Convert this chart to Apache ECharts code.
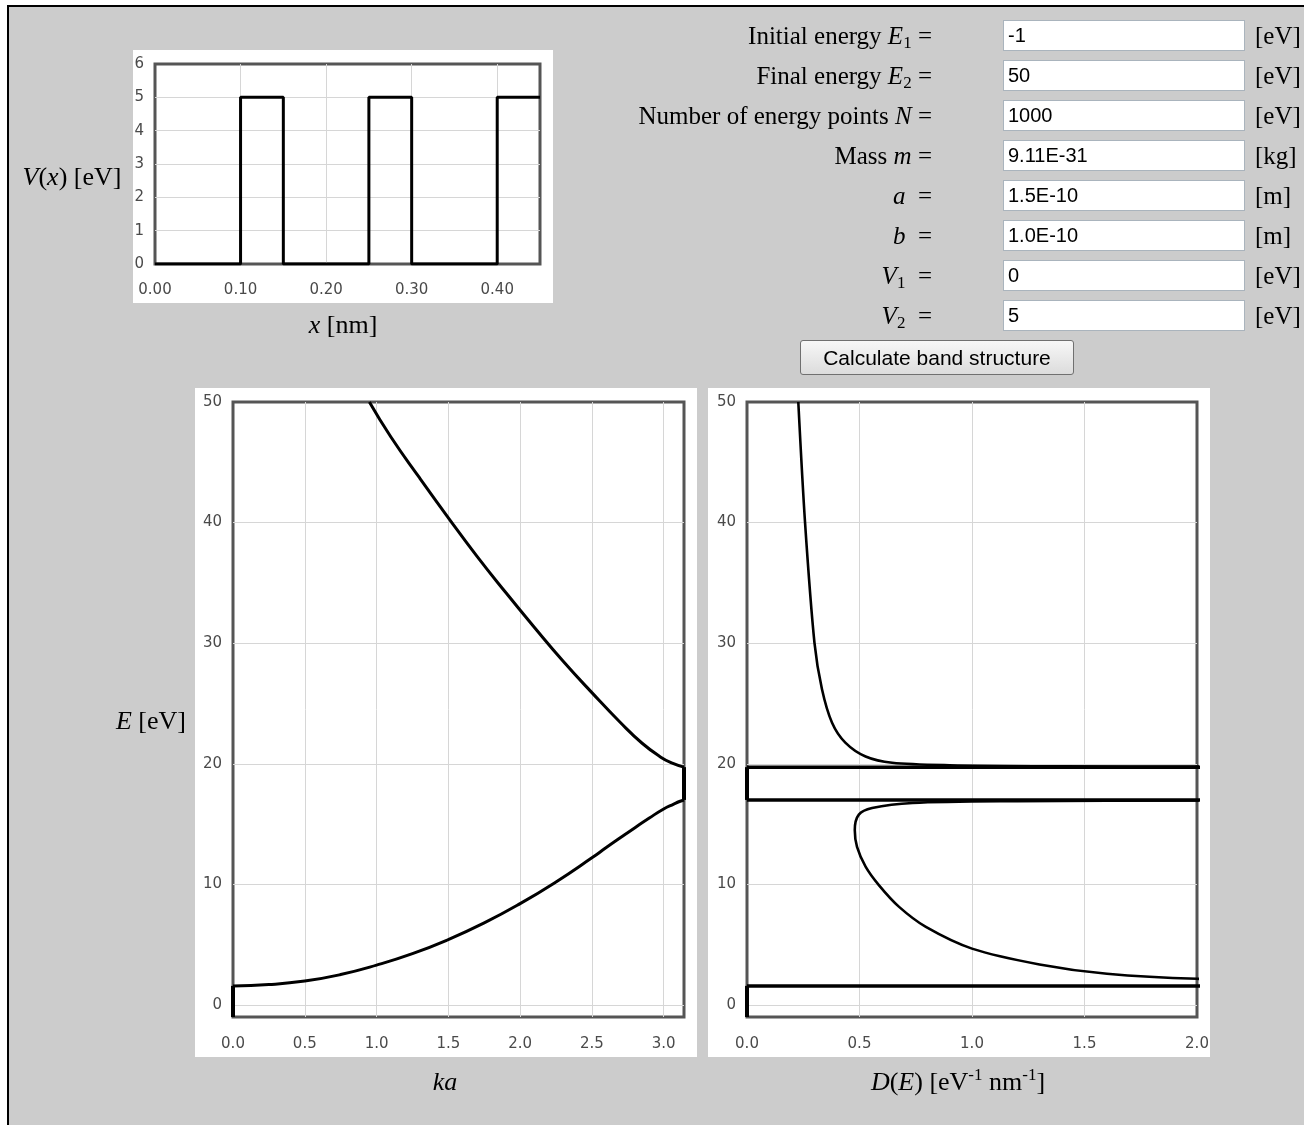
<!DOCTYPE html>
<html>
<head>
<meta charset="utf-8">
<script src="https://cdn.jsdelivr.net/npm/echarts@6/dist/echarts.min.js"></script>
<style>
html,body{margin:0;padding:0;background:#fff;width:1304px;height:1125px;overflow:hidden}
#frame{position:absolute;left:7px;top:5px;width:1400px;height:1300px;border-left:2px solid #000;border-top:2px solid #000;background:#cccccc}
#chart{position:absolute;left:0;top:0;width:1304px;height:1125px}
.lab{position:absolute;left:420px;width:512px;text-align:right;font-family:'Liberation Serif',serif;font-size:25px;height:31px;line-height:31px;color:#000;white-space:nowrap}
.lab sub{font-size:17px;line-height:0;vertical-align:-4px}
.inp{position:absolute;left:1003px;width:242px;height:31px;box-sizing:border-box;border:1px solid #aab4bd;background:#fff;font-family:'Liberation Sans',Arial,sans-serif;font-size:20px;line-height:29px;padding-left:4px;color:#000;white-space:nowrap}
.unit{position:absolute;left:1255px;font-family:'Liberation Serif',serif;font-size:25px;height:31px;line-height:31px;color:#000}
#btn{position:absolute;left:800px;top:340px;width:274px;height:35px;box-sizing:border-box;border:1px solid #707070;border-radius:3px;background:linear-gradient(#f7f7f7,#dcdcdc);font-family:'Liberation Sans',Arial,sans-serif;font-size:21px;line-height:33px;text-align:center;color:#000;white-space:nowrap}
</style>
</head>
<body>
<div id="frame"></div>
<div id="chart"></div>
<div id="form"></div>
<script>
// ---------- form content ----------
const formLabels = [
  'Initial energy <i>E</i><sub>1</sub> =',
  'Final energy <i>E</i><sub>2</sub> =',
  'Number of energy points <i>N</i> =',
  'Mass <i>m</i> =',
  '<i>a</i> &nbsp;=',
  '<i>b</i> &nbsp;=',
  '<i>V</i><sub>1</sub> &nbsp;=',
  '<i>V</i><sub>2</sub> &nbsp;='
];
const formValues = ['-1', '50', '1000', '9.11E-31', '1.5E-10', '1.0E-10', '0', '5'];
const formUnits = ['[eV]', '[eV]', '[eV]', '[kg]', '[m]', '[m]', '[eV]', '[eV]'];
const buttonText = 'Calculate band structure';

// ---------- chart data ----------
// potential V(x)
const potX = [0, 0.10, 0.10, 0.15, 0.15, 0.25, 0.25, 0.30, 0.30, 0.40, 0.40, 0.45];
const potV = [0, 0, 5, 5, 0, 0, 5, 5, 0, 0, 5, 5];

// energy range and band edges [eV]
const eMin = -1;
const eMax = 50;
const bandEdges = [1.58, 17.0, 19.72];
const kaEdges = [0, Math.PI];

// band structure E(ka)
const kaLower = [0, 0.25, 0.5, 0.75, 1.0, 1.25, 1.5, 1.75, 2.0, 2.25, 2.5, 2.6, 2.7, 2.8, 2.9, 3.0, 3.07, 3.11, 3.1416];
const eLower = [1.58, 1.69, 1.98, 2.52, 3.3, 4.25, 5.42, 6.8, 8.4, 10.2, 12.2, 13.05, 13.88, 14.7, 15.5, 16.25, 16.65, 16.87, 17.0];
const kaUpper = [0.95, 1.1, 1.3, 1.5, 1.7, 1.9, 2.1, 2.3, 2.5, 2.7, 2.85, 2.98, 3.06, 3.1416];
const eUpper = [50, 47.1, 43.7, 40.4, 37.2, 34.2, 31.3, 28.5, 25.9, 23.4, 21.7, 20.55, 20.05, 19.72];

// density of states D(E)
const dosLowerD = [3.0, 2.0, 1.6, 1.3, 1.0, 0.795, 0.676, 0.586, 0.527, 0.489, 0.479, 0.497, 0.556, 0.736, 1.2, 2.0, 3.0];
const dosLowerE = [1.9, 2.17, 2.58, 3.36, 4.67, 6.47, 8.13, 9.94, 11.47, 13.1, 14.5, 15.78, 16.33, 16.75, 16.9, 16.96, 16.99];
const dosUpperD = [3.0, 2.0, 1.4, 0.9, 0.645, 0.527, 0.437, 0.378, 0.333, 0.30, 0.258, 0.228];
const dosUpperE = [19.74, 19.76, 19.79, 19.88, 20.08, 20.6, 21.75, 23.4, 26.2, 30, 40, 50];
const dosEdgeD = [0, 3.0];   // divergence at band edges (off scale)
const dosGapD = 0;

// axis titles
const titles = {
  pot_y: '{i|V}{n|(}{i|x}{n|) [eV]}',
  pot_x: '{i|x}{n| [nm]}',
  band_y: '{i|E}{n| [eV]}',
  band_x: '{i|ka}',
  dos_x: '{i|D}{n|(}{i|E}{n|) [eV}{s|-1}{n| nm}{s|-1}{n|]}'
};

// ---------- build form ----------
const form = document.getElementById('form');
let html = '';
for (let i = 0; i < formLabels.length; i++) {
  const top = 20 + 40 * i;
  html += '<div class="lab" style="top:' + top + 'px">' + formLabels[i] + '</div>';
  html += '<div class="inp" style="top:' + top + 'px">' + formValues[i] + '</div>';
  html += '<div class="unit" style="top:' + top + 'px">' + formUnits[i] + '</div>';
}
html += '<div id="btn">' + buttonText + '</div>';
form.innerHTML = html;

// ---------- chart ----------
const zip = (a, b) => a.map((v, i) => [v, b[i]]);
const chart = echarts.init(document.getElementById('chart'), null, {renderer: 'canvas'});

const labelFont = {color: '#4a4a4a', fontFamily: 'DejaVu Sans', fontSize: 15};
const gridStyle = {show: true, borderColor: '#555', borderWidth: 3, backgroundColor: '#fff'};
const split = {show: true, showMinLine: false, showMaxLine: false, lineStyle: {color: '#d6d6d6', width: 1}};

function axis(gridIndex, opts, labelOpts) {
  return Object.assign({
    type: 'value', gridIndex,
    axisLine: {show: false}, axisTick: {show: false},
    splitLine: split,
    axisLabel: Object.assign({}, labelFont, labelOpts)
  }, opts);
}

const rich = {
  n: {fontFamily: 'Liberation Serif', fontSize: 26, fill: '#000', lineHeight: 32},
  i: {fontFamily: 'Liberation Serif', fontSize: 26, fontStyle: 'italic', fill: '#000', lineHeight: 32},
  s: {fontFamily: 'Liberation Serif', fontSize: 17, fill: '#000', lineHeight: 17, verticalAlign: 'top'}
};
function title(text, x, y) {
  return {type: 'text', x, y, style: {text, rich, textAlign: 'center', textVerticalAlign: 'middle', fill: '#000', font: '26px "Liberation Serif"'}};
}

function line(data, xi, w, smooth) {
  return {
    type: 'line', data, xAxisIndex: xi, yAxisIndex: xi,
    showSymbol: false, symbol: 'none', smooth: smooth || false,
    lineStyle: {color: '#000', width: w}, clip: true, silent: true, z: 3
  };
}

const option = {
  animation: false,
  graphic: [
    {type: 'rect', z: -10, shape: {x: 133, y: 50, width: 420, height: 253}, style: {fill: '#fff'}},
    {type: 'rect', z: -10, shape: {x: 195, y: 388, width: 502, height: 669}, style: {fill: '#fff'}},
    {type: 'rect', z: -10, shape: {x: 708, y: 388, width: 502, height: 669}, style: {fill: '#fff'}},
    title(titles.pot_y, 72, 178),
    title(titles.pot_x, 343, 326),
    title(titles.band_y, 151, 722),
    title(titles.band_x, 445, 1083),
    title(titles.dos_x, 958, 1083)
  ],
  grid: [
    Object.assign({left: 155, top: 64, width: 385, height: 200}, gridStyle),
    Object.assign({left: 233, top: 402, width: 451, height: 615}, gridStyle),
    Object.assign({left: 747, top: 402, width: 450, height: 615}, gridStyle)
  ],
  xAxis: [
    axis(0, {min: 0, max: 0.45, interval: 0.1}, {margin: 19, showMaxLabel: false, formatter: v => v.toFixed(2)}),
    axis(1, {min: 0, max: kaEdges[1], interval: 0.5}, {margin: 20, showMaxLabel: false, formatter: v => v.toFixed(1)}),
    axis(2, {min: 0, max: 2, interval: 0.5}, {margin: 20, formatter: v => v.toFixed(1)})
  ],
  yAxis: [
    axis(0, {min: 0, max: 6, interval: 1}, {margin: 11}),
    axis(1, {min: eMin, max: eMax, splitNumber: 5}, {margin: 11, showMinLabel: false}),
    axis(2, {min: eMin, max: eMax, splitNumber: 5}, {margin: 11, showMinLabel: false})
  ],
  series: [
    // potential
    line(zip(potX, potV), 0, 3, false),
    // band structure
    line(zip(kaLower, eLower), 1, 3, 0.5),
    line(zip(kaUpper, eUpper), 1, 3, 0.5),
    line([[kaEdges[0], eMin], [kaEdges[0], bandEdges[0]]], 1, 4, false),
    line([[kaEdges[1], bandEdges[1]], [kaEdges[1], bandEdges[2]]], 1, 4, false),
    // density of states
    line(zip(dosLowerD, dosLowerE), 2, 2.6, 0.3),
    line(zip(dosUpperD, dosUpperE), 2, 2.6, 0.3),
    line([[dosGapD, eMin], [dosGapD, bandEdges[0]]], 2, 4, false),
    line([[dosGapD, bandEdges[1]], [dosGapD, bandEdges[2]]], 2, 4, false),
    line(zip(dosEdgeD, [bandEdges[0], bandEdges[0]]), 2, 3.5, false),
    line(zip(dosEdgeD, [bandEdges[1], bandEdges[1]]), 2, 3.5, false),
    line(zip(dosEdgeD, [bandEdges[2], bandEdges[2]]), 2, 3.5, false)
  ]
};
chart.setOption(option);
</script>
</body>
</html>
